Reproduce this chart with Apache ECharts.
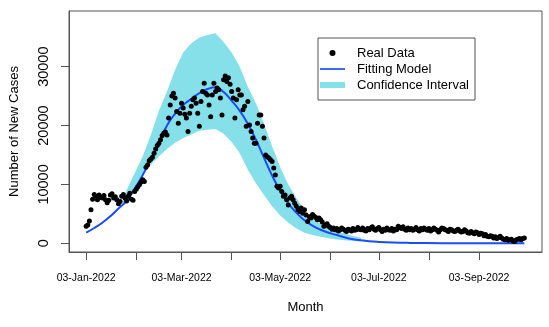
<!DOCTYPE html>
<html>
<head>
<meta charset="utf-8">
<script src="https://cdn.jsdelivr.net/npm/echarts@6/dist/echarts.min.js"></script>
<style>
  html, body { margin: 0; padding: 0; background: #fff; }
  #chart { width: 549px; height: 327px; }
</style>
</head>
<body>
<div id="chart"></div>
<script>
// daily new cases, day 0 = 03-Jan-2022
const caseValues = [
  2900, 3100, 3800, 5700, 7500, 8300, 8000, 7400, 8200, 7800,
  7700, 8100, 7400, 6900, 7300, 8200, 8400, 7700, 7900, 7400,
  6700, 7100, 8000, 8300, 7700, 7200, 8000, 8500, 7500, 7300,
  8800, 9200, 9600, 10000, 10400, 10800, 10500, 12900, 13300, 14000,
  14300, 14600, 15300, 16000, 16600, 17000, 17600, 18300, 18700, 18900,
  18400, 21300, 23500, 25000, 25500, 24700, 22400, 20400, 22100, 23800,
  23000, 21900, 21300, 19000, 22100, 23300, 24400, 24700, 23800, 22100,
  19900, 24100, 25800, 27200, 25500, 25200, 23500, 21500, 25200, 27200,
  25800, 26400, 26100, 24700, 21800, 27800, 28400, 27500, 28100, 27000,
  25800, 24700, 21300, 24400, 26100, 25200, 25200, 22700, 23300, 19900,
  24100, 20100, 19000, 17900, 17000, 17000, 20400, 21800, 21800, 19900,
  17900, 15000, 14700, 14500, 14200, 13900, 12800, 11600, 9700, 9400,
  9700, 8800, 8000, 8200, 7400, 6500, 7700, 8000, 7400, 6800,
  6300, 5700, 5400, 6000, 5100, 5700, 4800, 3700, 4500, 4300,
  4900, 4600, 4400, 4000, 4300, 4000, 3600, 2900, 3100, 3300,
  2900, 2700, 2400, 2600, 2300, 2500, 2100, 2300, 2600, 2400,
  2200, 2000, 2400, 2300, 2100, 2500, 2200, 2300, 2700, 2400,
  2300, 2600, 2200, 2100, 2500, 2300, 2600, 2800, 2400, 2200,
  2500, 2700, 2300, 2000, 2400, 2200, 2600, 2300, 2200, 2500,
  2100, 2400, 2300, 2900, 2700, 2500, 2800, 2400, 2200, 2600,
  2300, 2500, 2200, 2400, 2700, 2300, 2100, 2500, 2300, 2600,
  2400, 2200, 2500, 2100, 2300, 2600, 2400, 2200, 1900, 2300,
  2600, 2500, 2300, 2200, 2000, 2400, 2300, 2100, 2000, 2200,
  2400, 2100, 1900, 2000, 2300, 2100, 1800, 1700, 2000, 1800,
  1600, 1900, 1800, 1500, 1700, 1600, 1300, 1500, 1200, 1100,
  1300, 1200, 900, 1100, 800, 1000, 1200, 900, 700, 600,
  800, 500, 600, 700, 400, 300, 600, 700, 800, 600,
  800, 900
];

// fitted model, sampled along the curve
const modelDays = [0, 5, 10, 15, 20, 25, 30, 35, 40, 45, 50, 55, 60, 65, 70, 75, 80, 85, 90, 95,
  100, 105, 110, 115, 120, 125, 130, 135, 140, 145, 150, 155, 160, 165, 170, 175, 180, 190, 200, 220, 240, 271];
const modelValues = [1800, 2600, 3500, 4600, 5900, 7200, 9300, 11600, 14300, 17000, 20000, 22000, 23500, 24500, 25500, 26200, 26500, 25700, 24200, 22500,
  20300, 17600, 14500, 11500, 8900, 6800, 5200, 3900, 3000, 2300, 1800, 1400, 1000, 700, 500, 350, 250, 130, 70, 25, 10, 5];

// confidence band
const bandDays = [22, 25, 30, 35, 40, 45, 50, 55, 60, 65, 70, 75, 80, 85, 90, 95, 100, 105, 110, 115,
  120, 125, 130, 135, 140, 145, 150, 155, 160, 165, 170];
const bandUpper = [6400, 9000, 11900, 14800, 18400, 22500, 25800, 29500, 32400, 34000, 34900, 35400, 35700, 34200, 32400, 30000, 26600, 23800, 20300, 16500,
  12900, 10000, 7700, 5700, 4200, 3300, 2700, 2100, 1650, 1250, 950];
const bandLower = [6400, 7200, 9600, 11800, 13300, 14800, 16000, 17100, 17900, 18500, 19100, 19300, 19400, 18600, 17200, 15300, 12500, 10200, 8200, 6300,
  4700, 3500, 2500, 1800, 1400, 1100, 850, 650, 500, 400, 300];

const tickDays = [0, 31, 59, 90, 120, 151, 181, 212, 243];
const labelDays = [0, 59, 120, 181, 243];
const labelTexts = ['03-Jan-2022', '03-Mar-2022', '03-May-2022', '03-Jul-2022', '03-Sep-2022'];
const yTicks = [0, 10000, 20000, 30000];

const FONT = 'Liberation Sans, Arial, sans-serif';
const AXIS_COLOR = '#555';
const BAND_COLOR = '#86E0EA';
const LINE_COLOR = '#1a4cff';

const chart = echarts.init(document.getElementById('chart'));

const scatterData = caseValues.map(function (v, i) { return [i, v]; });
const modelData = modelDays.map(function (d, i) { return [d, modelValues[i]]; });

const option = {
    animation: false,
    backgroundColor: '#fff',
    textStyle: { fontFamily: FONT },
    grid: {
        left: 66, right: 7, top: 11, bottom: 75,
        show: true,
        borderColor: AXIS_COLOR,
        borderWidth: 1,
        backgroundColor: 'transparent'
    },
    legend: {
        orient: 'vertical',
        left: 318,
        top: 38,
        padding: [7, 6, 7, 2],
        itemGap: 0,
        itemWidth: 25,
        itemHeight: 6,
        borderColor: AXIS_COLOR,
        borderWidth: 1,
        textStyle: { fontFamily: FONT, fontSize: 13, color: '#000', lineHeight: 16, padding: [0, 0, 0, 7] },
        data: [
            { name: 'Real Data', icon: 'circle' },
            { name: 'Fitting Model', icon: 'path://M0,0 L30,0 L30,2 L0,2 Z' },
            { name: 'Confidence Interval', icon: 'rect' }
        ]
    },
    xAxis: {
        type: 'value',
        min: -10.6,
        max: 281.9,
        name: 'Month',
        nameLocation: 'middle',
        nameGap: 49,
        nameTextStyle: { fontFamily: FONT, fontSize: 13, color: '#000' },
        splitLine: { show: false },
        axisLine: { show: true, onZero: false, lineStyle: { color: AXIS_COLOR } },
        axisTick: { show: true, length: 8, lineStyle: { color: AXIS_COLOR }, customValues: tickDays },
        axisLabel: {
            customValues: labelDays,
            margin: 21,
            fontSize: 10.5,
            color: '#000',
            fontFamily: FONT,
            formatter: function (v) {
                const k = labelDays.indexOf(v);
                return k >= 0 ? labelTexts[k] : '';
            }
        }
    },
    yAxis: {
        type: 'value',
        min: -1480,
        max: 39460,
        name: 'Number of New Cases',
        nameLocation: 'middle',
        nameGap: 48,
        nameRotate: 90,
        nameTextStyle: { fontFamily: FONT, fontSize: 13, color: '#000' },
        splitLine: { show: false },
        axisLine: { show: true, onZero: false, lineStyle: { color: AXIS_COLOR } },
        axisTick: { show: true, length: 8, lineStyle: { color: AXIS_COLOR }, customValues: yTicks },
        axisLabel: {
            customValues: yTicks,
            rotate: 90,
            margin: 18,
            fontSize: 14.5,
            color: '#000',
            fontFamily: FONT,
            formatter: function (v) { return String(v); }
        }
    },
    series: [
        {
            name: 'Confidence Interval',
            type: 'custom',
            z: 1,
            itemStyle: { color: BAND_COLOR },
            data: [[bandDays[0], bandLower[0]]],
            renderItem: function (params, api) {
                const pts = [];
                for (let i = 0; i < bandDays.length; i++) {
                    pts.push(api.coord([bandDays[i], bandUpper[i]]));
                }
                for (let i = bandDays.length - 1; i >= 0; i--) {
                    pts.push(api.coord([bandDays[i], bandLower[i]]));
                }
                return {
                    type: 'polygon',
                    shape: { points: pts },
                    style: { fill: BAND_COLOR }
                };
            }
        },
        {
            name: 'Fitting Model',
            type: 'line',
            z: 2,
            data: modelData,
            smooth: true,
            symbol: 'none',
            lineStyle: { color: LINE_COLOR, width: 2 },
            itemStyle: { color: LINE_COLOR }
        },
        {
            name: 'Real Data',
            type: 'scatter',
            z: 3,
            data: scatterData,
            symbolSize: 5,
            itemStyle: { color: '#000', opacity: 1 }
        }
    ]
};
chart.setOption(option);
</script>
</body>
</html>
